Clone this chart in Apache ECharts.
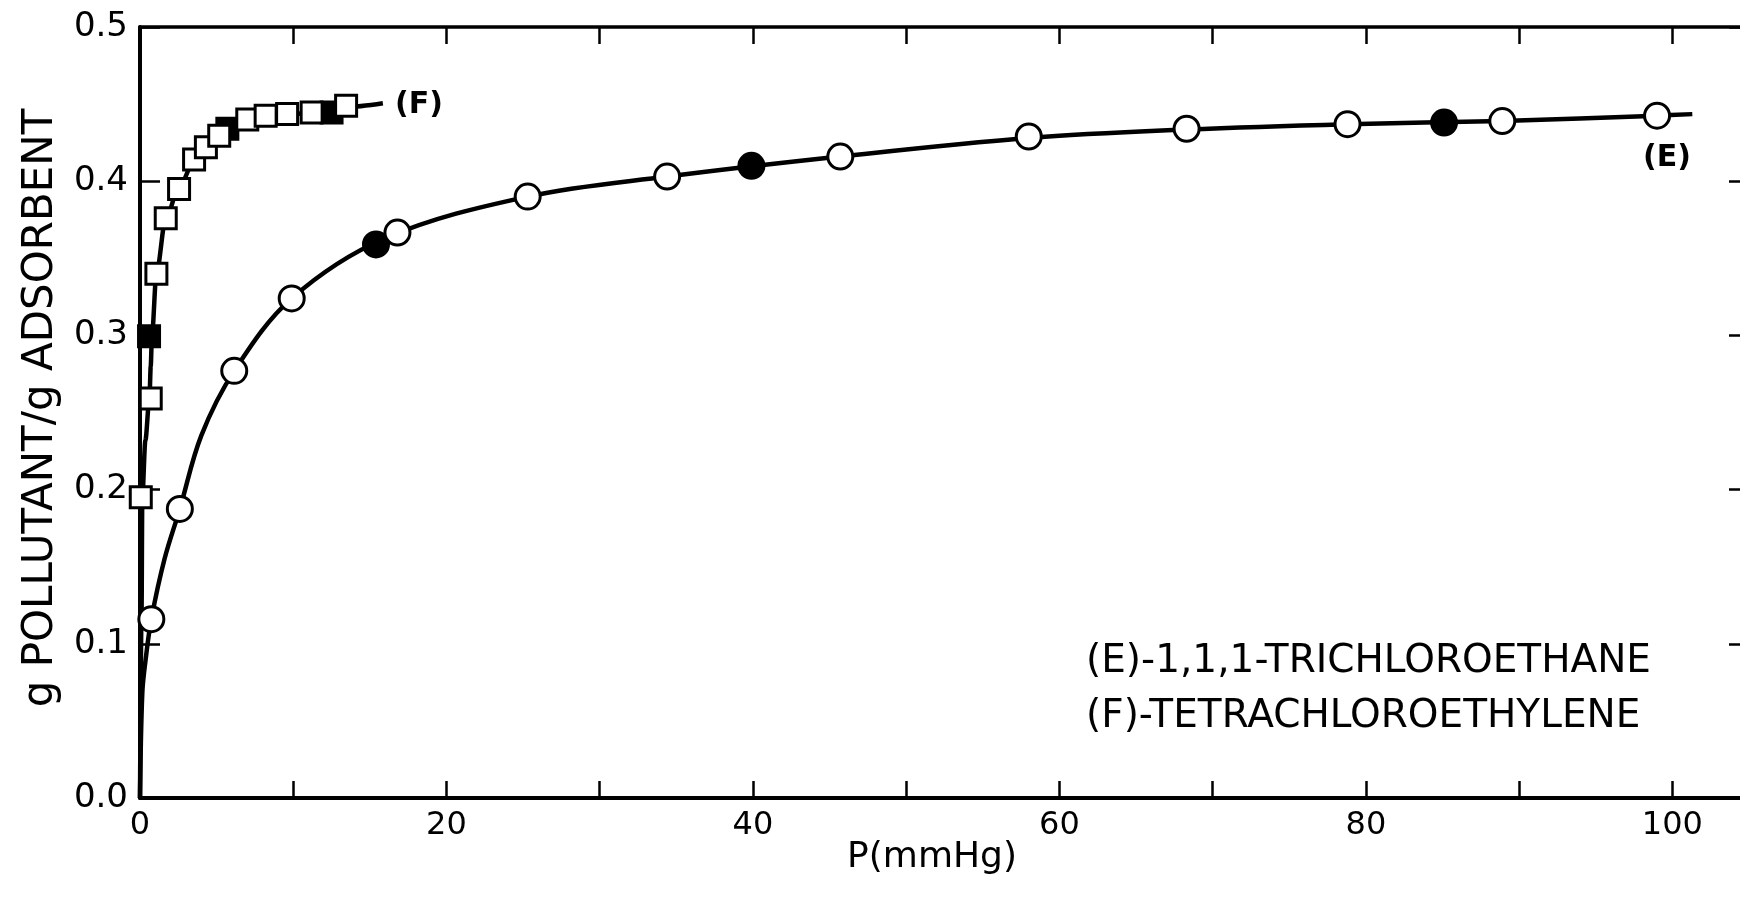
<!DOCTYPE html>
<html>
<head>
<meta charset="utf-8">
<script src="https://cdn.jsdelivr.net/npm/echarts@6/dist/echarts.min.js"></script>
<style>
html,body{margin:0;padding:0;background:#fff;}
#c{width:1740px;height:901px;}
</style>
</head>
<body>
<div id="c"></div>
<script>
// ---- data ----
// (E) 1,1,1-trichloroethane : [P (mmHg), g/g]
var eOpen = [[0.74,0.116],[2.6,0.1875],[6.15,0.277],[9.9,0.324],[16.8,0.3667],[25.3,0.390],[34.4,0.403],[45.7,0.416],[58.0,0.429],[68.3,0.434],[78.8,0.437],[88.9,0.439],[99.0,0.4425]];
var eFilled = [[15.4,0.359],[39.9,0.410],[85.1,0.438]];
var eCurve = [[0,0],[0.15,0.068],[0.37,0.09],[0.74,0.116],[1.6,0.155],[2.6,0.1875],[4.0,0.235],[6.15,0.277],[9.9,0.324],[16.0,0.363],[25.3,0.390],[34.4,0.403],[45.7,0.416],[58.0,0.428],[68.3,0.4335],[78.8,0.437],[88.9,0.439],[99.0,0.4425],[101.3,0.4435]];
// (F) tetrachloroethylene
var fOpen = [[0.05,0.195],[0.7,0.259],[1.07,0.340],[1.68,0.376],[2.55,0.395],[3.53,0.414],[4.3,0.422],[5.17,0.4295],[7.0,0.440],[8.2,0.4424],[9.6,0.4435],[11.2,0.4446],[13.45,0.449]];
var fFilled = [[0.59,0.2995],[5.7,0.434],[12.5,0.4446]];
var fCurve = [[0,0],[0.1,0.12],[0.15,0.195],[0.35,0.232],[0.62,0.26],[0.7,0.28],[0.78,0.30],[1.07,0.34],[1.68,0.376],[2.55,0.396],[3.53,0.413],[5.17,0.429],[7.0,0.439],[9.6,0.4435],[12.5,0.445],[13.45,0.448],[15.85,0.4505]];
// axis / text
var xLabelStep = 20;
var yTicks = [0.0,0.1,0.2,0.3,0.4,0.5];
var yTitle = 'g POLLUTANT/g ADSORBENT';
var xTitle = 'P(mmHg)';
var legendLines = ['(E)-1,1,1-TRICHLOROETHANE','(F)-TETRACHLOROETHYLENE'];
var curveTags = ['(E)','(F)'];

var FONT = '"DejaVu Sans", "Liberation Sans", Arial, sans-serif';
var chart = echarts.init(document.getElementById('c'), null, {renderer:'canvas'});

var axisLineStyle = {color:'#000', width:4};
var option = {
  animation:false,
  backgroundColor:'#fff',
  grid:{left:140, top:27, width:1609, height:771, containLabel:false, outerBoundsMode:'none'},
  xAxis:[{
    type:'value', position:'bottom', min:0, max:105, interval:10,
    axisLine:{show:true, onZero:false, lineStyle:axisLineStyle},
    axisTick:{show:true, inside:true, length:17, lineStyle:{color:'#000', width:2.5}},
    splitLine:{show:false},
    axisLabel:{show:true, margin:12, color:'#000', fontFamily:FONT, fontSize:32,
      showMaxLabel:false,
      formatter:function(v){ return (v % xLabelStep === 0 && v <= 100) ? String(v) : ''; }}
  },{
    type:'value', position:'top', min:0, max:105, interval:10,
    axisLine:{show:true, onZero:false, lineStyle:{color:'#000', width:3.5}},
    axisTick:{show:true, inside:true, length:17, lineStyle:{color:'#000', width:2.5}},
    splitLine:{show:false}, axisLabel:{show:false}
  }],
  yAxis:[{
    type:'value', position:'left', min:yTicks[0], max:yTicks[yTicks.length-1], interval:0.1,
    axisLine:{show:true, onZero:false, lineStyle:axisLineStyle},
    axisTick:{show:true, inside:true, length:20, lineStyle:{color:'#000', width:2.5}},
    splitLine:{show:false},
    axisLabel:{show:true, margin:12, color:'#000', fontFamily:FONT, fontSize:34,
      formatter:function(v){ return v.toFixed(1); }}
  },{
    type:'value', position:'right', min:yTicks[0], max:yTicks[yTicks.length-1], interval:0.1,
    axisLine:{show:true, onZero:false, lineStyle:axisLineStyle},
    axisTick:{show:true, inside:true, length:20, lineStyle:{color:'#000', width:2.5}},
    splitLine:{show:false}, axisLabel:{show:false}
  }],
  series:[
    {type:'line', data:eCurve, showSymbol:false, smooth:0.35,
      lineStyle:{color:'#000', width:4.5}, silent:true, z:1},
    {type:'line', data:fCurve, showSymbol:false, smooth:0.3, smoothMonotone:'x',
      lineStyle:{color:'#000', width:4.5}, silent:true, z:1},
    {type:'scatter', data:fFilled, symbol:'rect', symbolSize:21,
      itemStyle:{color:'#000', borderColor:'#000', borderWidth:3, opacity:1}, z:3},
    {type:'scatter', data:fOpen, symbol:'rect', symbolSize:21,
      itemStyle:{color:'#fff', borderColor:'#000', borderWidth:3, opacity:1}, z:4},
    {type:'scatter', data:eFilled, symbol:'circle', symbolSize:25,
      itemStyle:{color:'#000', borderColor:'#000', borderWidth:3, opacity:1}, z:3},
    {type:'scatter', data:eOpen, symbol:'circle', symbolSize:25,
      itemStyle:{color:'#fff', borderColor:'#000', borderWidth:3, opacity:1}, z:4}
  ],
  graphic:[
    {type:'text', x:41, y:408, rotation:Math.PI/2,
      style:{text:yTitle, font:'42px '+FONT, fill:'#000', textAlign:'center', textVerticalAlign:'middle'}},
    {type:'text', x:932, y:858,
      style:{text:xTitle, font:'36px '+FONT, fill:'#000', textAlign:'center', textVerticalAlign:'middle'}},
    {type:'text', x:1086, y:662,
      style:{text:legendLines[0], font:'39px '+FONT, fill:'#000', textAlign:'left', textVerticalAlign:'middle'}},
    {type:'text', x:1086, y:717,
      style:{text:legendLines[1], font:'39px '+FONT, fill:'#000', textAlign:'left', textVerticalAlign:'middle'}},
    {type:'text', x:1667, y:158,
      style:{text:curveTags[0], font:'bold 30px '+FONT, fill:'#000', textAlign:'center', textVerticalAlign:'middle'}},
    {type:'text', x:419, y:105,
      style:{text:curveTags[1], font:'bold 30px '+FONT, fill:'#000', textAlign:'center', textVerticalAlign:'middle'}}
  ]
};
chart.setOption(option);
</script>
</body>
</html>
